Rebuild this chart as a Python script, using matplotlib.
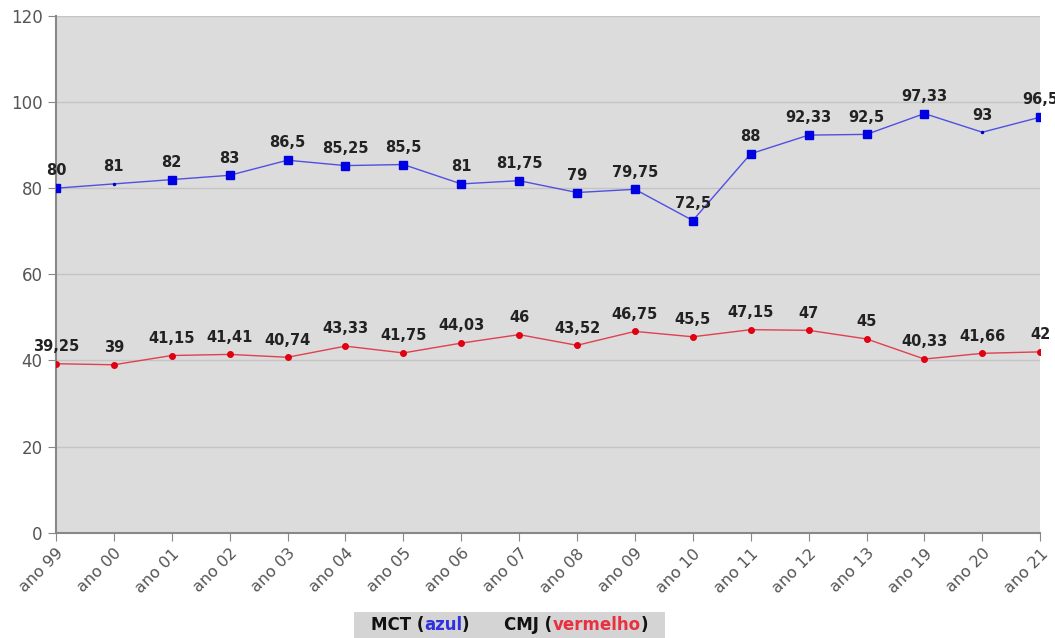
import matplotlib.pyplot as plt
from matplotlib.patches import Rectangle
from matplotlib.offsetbox import TextArea, HPacker, AnchoredOffsetbox

anos = ['ano 99', 'ano 00', 'ano 01', 'ano 02', 'ano 03', 'ano 04', 'ano 05',
        'ano 06', 'ano 07', 'ano 08', 'ano 09', 'ano 10', 'ano 11', 'ano 12',
        'ano 13', 'ano 19', 'ano 20', 'ano 21']
mct = [80, 81, 82, 83, 86.5, 85.25, 85.5, 81, 81.75, 79, 79.75, 72.5,
       88, 92.33, 92.5, 97.33, 93, 96.5]
cmj = [39.25, 39, 41.15, 41.41, 40.74, 43.33, 41.75, 44.03, 46, 43.52,
       46.75, 45.5, 47.15, 47, 45, 40.33, 41.66, 42]
# pontos do MCT sem marcador quadrado
mct_sem_marcador = [1, 16]


def fmt(v):
    return ('%g' % v).replace('.', ',')


fig = plt.figure(figsize=(10.55, 6.38), dpi=100)
ax = fig.add_axes([0.053, 0.165, 0.933, 0.810])
ax.set_facecolor('#dcdcdc')

x = list(range(len(anos)))
ax.plot(x, mct, color='#5050e0', lw=1.0, zorder=3)
xs = [i for i in x if i not in mct_sem_marcador]
ax.plot(xs, [mct[i] for i in xs], 's', color='#0000e0', ms=6, zorder=4)
ax.plot(mct_sem_marcador, [mct[i] for i in mct_sem_marcador], '.',
        color='#0000c0', ms=3, zorder=4)
ax.plot(x, cmj, color='#e04050', lw=1.0, zorder=3)
ax.plot(x, cmj, 'o', color='#e00010', ms=4, zorder=4)

for i in x:
    ax.annotate(fmt(mct[i]), (i, mct[i]), xytext=(0, 7), textcoords='offset points',
                ha='center', va='bottom', fontsize=10.5, fontweight='bold',
                color='#222222', clip_on=False)
    ax.annotate(fmt(cmj[i]), (i, cmj[i]), xytext=(0, 7), textcoords='offset points',
                ha='center', va='bottom', fontsize=10.5, fontweight='bold',
                color='#222222', clip_on=False)

ax.set_xlim(0, len(anos) - 1)
ax.set_ylim(0, 120)
ax.set_yticks(range(0, 121, 20))
ax.set_xticks(x)
ax.set_xticklabels(anos, rotation=45, ha='right', rotation_mode='anchor')
ax.tick_params(axis='both', colors='#888888', labelcolor='#555555',
               labelsize=12, length=6, direction='out')
ax.tick_params(axis='x', labelsize=11.5)
ax.yaxis.grid(True, color='#c4c4c4', lw=1)
ax.set_axisbelow(True)
for s in ['top', 'right']:
    ax.spines[s].set_visible(False)
for s in ['left', 'bottom']:
    ax.spines[s].set_color('#888888')
    ax.spines[s].set_linewidth(1.5)

# faixa cinza da legenda
fig.add_artist(Rectangle((0.336, 0.0), 0.294, 0.041, transform=fig.transFigure,
                         facecolor='#d4d4d4', edgecolor='none'))
props = dict(fontsize=12, fontweight='bold')
partes = [('MCT (', '#111111'), ('azul', '#3030e0'), (')      CMJ (', '#111111'),
          ('vermelho', '#e83040'), (')', '#111111')]
box = HPacker(children=[TextArea(t, textprops=dict(color=c, **props)) for t, c in partes],
              align='center', pad=0, sep=0)
leg = AnchoredOffsetbox(loc='center', child=box, pad=0, borderpad=0,
                        frameon=False, bbox_to_anchor=(0.483, 0.021),
                        bbox_transform=fig.transFigure)
fig.add_artist(leg)

fig.savefig('out.png', dpi=100)
